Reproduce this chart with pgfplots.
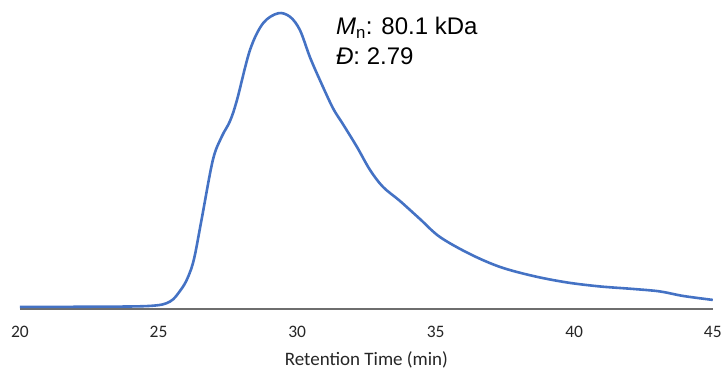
\documentclass[border=0pt]{standalone}
\usepackage{pgfplots}
\pgfplotsset{compat=1.18}
\usepackage{fontspec}
\setmainfont{Carlito}
\newfontfamily\arial{Liberation Sans}
\definecolor{curveblue}{HTML}{4472C4}
\definecolor{axgray}{HTML}{6E6E6E}
\begin{document}
\begin{tikzpicture}
\begin{axis}[
  scale only axis,
  width=693pt, height=309pt,
  xmin=20, xmax=45, ymin=0, ymax=309,
  axis y line=none,
  axis x line*=bottom,
  x axis line style={axgray, line width=1.6pt, -},
  xtick={20,25,30,35,40,45},
  major tick length=0pt,
  /pgf/number format/assume math mode=true,
  xticklabel style={anchor=base, yshift=-29pt, font=\fontsize{17.5}{20}\selectfont, text=black!85},
  xlabel={Retention Time (min)},
  xlabel style={at={(rel axis cs:0.5,0)}, anchor=base, yshift=-57pt, font=\fontsize{19}{22}\selectfont, text=black!85},
  clip=false,
]
\addplot[curveblue, line width=2.6pt, smooth, tension=0.55] coordinates {
(20.00,2) (22.5,2.2) (24.69,3) (25.41,7.3) (25.80,19) (26.05,31) (26.28,50) (26.55,89)
(26.96,149) (27.28,172.3) (27.58,188) (27.83,209) (28.30,259) (28.77,285.7)
(29.31,295.7) (29.74,292.3) (30.10,279) (30.46,252) (30.82,229) (31.29,201)
(31.65,185) (32.16,162) (32.63,139) (33.10,122) (33.71,108) (34.43,90)
(35.15,72) (36.23,55) (37.32,42) (38.51,33) (39.73,26.5) (40.92,22.5)
(42.11,20) (43.09,17.5) (43.92,13) (45.00,9)
};
\node[anchor=base west, inner sep=0pt, font=\arial\fontsize{24}{28}\selectfont] at (axis cs:31.4,274) {\textit{M}\textsubscript{n}: 80.1 kDa};
\node[anchor=base west, inner sep=0pt, font=\arial\fontsize{24}{28}\selectfont] at (axis cs:31.4,244) {\textit{Đ}: 2.79};
\path (rel axis cs:0,0) ++(-20pt,-63pt) coordinate (bl);
\path (rel axis cs:1,1) ++(12pt,0pt) coordinate (tr);
\end{axis}
\path (bl) rectangle (tr);
\end{tikzpicture}
\end{document}
